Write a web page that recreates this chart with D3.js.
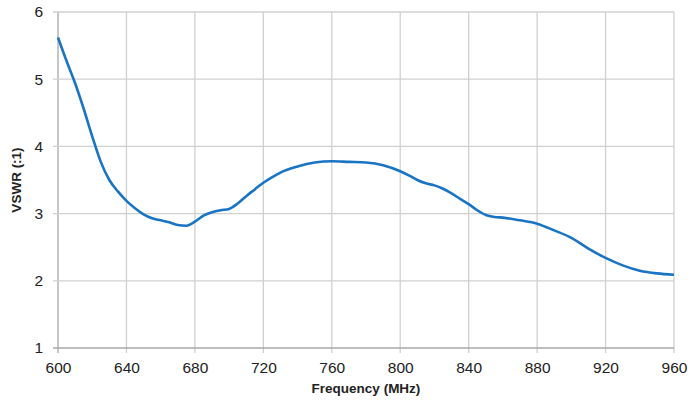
<!DOCTYPE html>
<html><head><meta charset="utf-8">
<script src="https://cdn.jsdelivr.net/npm/d3@7"></script>
<style>body{margin:0;background:#fff}svg{display:block}</style>
</head><body>
<script>
const freqs = [600,605,610,615,620,625,630,635,640,645,650,655,660,665,670,675,680,685,690,695,700,705,710,715,720,725,730,740,750,760,770,780,790,800,805,810,815,820,825,830,835,840,845,850,855,860,870,880,890,900,910,920,930,940,950,960];
const vswr = [5.62,5.27,4.94,4.56,4.15,3.77,3.50,3.33,3.19,3.08,2.99,2.93,2.90,2.87,2.83,2.82,2.88,2.97,3.02,3.05,3.07,3.15,3.26,3.36,3.46,3.54,3.61,3.70,3.76,3.78,3.77,3.76,3.72,3.63,3.57,3.50,3.45,3.42,3.37,3.30,3.22,3.14,3.05,2.98,2.95,2.94,2.90,2.85,2.75,2.64,2.48,2.34,2.23,2.15,2.11,2.09];
const xTicks = [600,640,680,720,760,800,840,880,920,960];
const yTicks = [1,2,3,4,5,6];
const xTitle = "Frequency (MHz)";
const yTitle = "VSWR (:1)";

const W = 690, H = 402;
const m = {left:58, right:16, top:12, bottom:54};
const svg = d3.select("body").append("svg").attr("width",W).attr("height",H);
const x = d3.scaleLinear().domain([600,960]).range([m.left, W-m.right]);
const y = d3.scaleLinear().domain([1,6]).range([H-m.bottom, m.top]);
const font = "Liberation Sans, Arial, sans-serif";

// grid
const g = svg.append("g");
g.selectAll(".gx").data(xTicks).join("line")
  .attr("x1",d=>x(d)).attr("x2",d=>x(d)).attr("y1",y(6)).attr("y2",y(1)+5)
  .attr("stroke",d=>d===600?"#a8a8a8":"#d0d0d0").attr("stroke-width",1.3);
g.selectAll(".gy").data(yTicks).join("line")
  .attr("x1",x(600)-5).attr("x2",x(960)).attr("y1",d=>y(d)).attr("y2",d=>y(d))
  .attr("stroke",d=>d===1?"#a8a8a8":"#d0d0d0").attr("stroke-width",1.3);

// axes labels via d3 axes
const xa = svg.append("g").attr("transform",`translate(0,${y(1)})`)
  .call(d3.axisBottom(x).tickValues(xTicks).tickSize(0).tickPadding(14).tickFormat(d3.format("d")));
xa.select(".domain").remove();
xa.selectAll("text").attr("font-family",font).attr("font-size",15.5).attr("fill","#222");

const ya = svg.append("g").attr("transform",`translate(${x(600)},0)`)
  .call(d3.axisLeft(y).tickValues(yTicks).tickSize(0).tickPadding(15).tickFormat(d3.format("d")));
ya.select(".domain").remove();
ya.selectAll("text").attr("font-family",font).attr("font-size",15.5).attr("fill","#222");

// line
const line = d3.line().x((d,i)=>x(freqs[i])).y(d=>y(d)).curve(d3.curveMonotoneX);
svg.append("path").datum(vswr).attr("d",line).attr("fill","none")
  .attr("stroke","#1a74c4").attr("stroke-width",2.6).attr("stroke-linejoin","round");

// titles
svg.append("text").attr("x",(x(600)+x(960))/2).attr("y",393).attr("text-anchor","middle")
  .attr("font-family",font).attr("font-weight","bold").attr("font-size",13.5).attr("fill","#222").text(xTitle);
svg.append("text").attr("transform",`translate(21,${(y(1)+y(6))/2}) rotate(-90)`).attr("text-anchor","middle")
  .attr("font-family",font).attr("font-weight","bold").attr("font-size",13.5).attr("fill","#222").text(yTitle);
</script>
</body></html>
